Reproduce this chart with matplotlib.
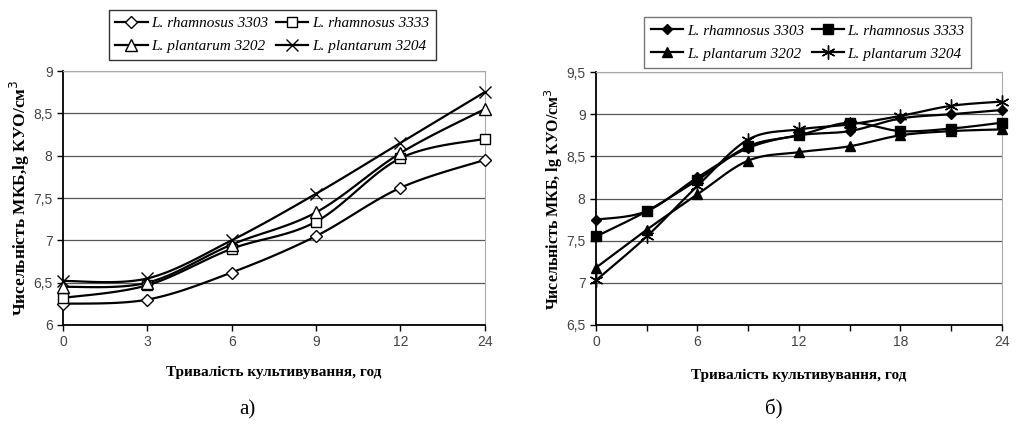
import matplotlib.pyplot as plt
import numpy as np

# data
hours_a = ["0", "3", "6", "9", "12", "24"]
rh3303_a = [6.25, 6.30, 6.62, 7.05, 7.62, 7.95]
rh3333_a = [6.32, 6.47, 6.90, 7.22, 7.97, 8.20]
pl3202_a = [6.45, 6.50, 6.95, 7.33, 8.03, 8.55]
pl3204_a = [6.52, 6.55, 7.00, 7.55, 8.15, 8.75]

hours_b = [0, 3, 6, 9, 12, 15, 18, 21, 24]
rh3303_b = [7.75, 7.85, 8.25, 8.60, 8.75, 8.80, 8.95, 9.00, 9.05]
rh3333_b = [7.55, 7.85, 8.22, 8.62, 8.75, 8.90, 8.80, 8.83, 8.90]
pl3202_b = [7.18, 7.63, 8.05, 8.45, 8.55, 8.62, 8.75, 8.80, 8.82]
pl3204_b = [7.03, 7.55, 8.15, 8.70, 8.82, 8.88, 8.98, 9.10, 9.15]

names = ["L. rhamnosus 3303", "L. rhamnosus 3333", "L. plantarum 3202", "L. plantarum 3204"]

serif = "Liberation Serif"
sans = "Liberation Sans"


def smooth(x, y, n=20):
    # Catmull-Rom curve through the points (end points doubled), like Excel's smoothed line
    x = np.asarray(x, float)
    y = np.asarray(y, float)
    px = np.concatenate([[x[0]], x, [x[-1]]])
    py = np.concatenate([[y[0]], y, [y[-1]]])
    xs, ys = [], []
    t = np.linspace(0, 1, n)
    for i in range(1, len(px) - 2):
        for p, out in ((px, xs), (py, ys)):
            p0, p1, p2, p3 = p[i - 1], p[i], p[i + 1], p[i + 2]
            out.extend(0.5 * (2 * p1 + (-p0 + p2) * t
                              + (2 * p0 - 5 * p1 + 4 * p2 - p3) * t ** 2
                              + (-p0 + 3 * p1 - 3 * p2 + p3) * t ** 3))
    return xs, ys


def draw(ax, x, y, marker, face, ms, label):
    sx, sy = smooth(x, y)
    ax.plot(sx, sy, color="black", lw=1.6, clip_on=False, zorder=3)
    ax.plot(x, y, ls="none", marker=marker, mfc=face, mec="black", ms=ms,
            mew=1.0, clip_on=False, zorder=4)
    # proxy for legend
    return ax.plot([], [], color="black", lw=1.6, marker=marker, mfc=face,
                   mec="black", ms=ms, mew=1.0, label=label)[0]


def style(ax):
    ax.grid(axis="y", color="#555555", lw=0.9)
    ax.set_axisbelow(True)
    for s in ["top", "right"]:
        ax.spines[s].set_color("#aaaaaa")
    for s in ["left", "bottom"]:
        ax.spines[s].set_linewidth(1.3)
    ax.tick_params(labelsize=10, colors="black", length=4, width=1)
    for lab in ax.get_xticklabels() + ax.get_yticklabels():
        lab.set_fontfamily(sans)
        lab.set_color("#444444")


fig = plt.figure(figsize=(10.16, 4.24), dpi=100)
leg_kw = dict(loc="center", ncol=2, frameon=True, fancybox=False,
              prop={"family": serif, "style": "italic", "size": 11},
              handlelength=2.1, handletextpad=0.25, columnspacing=0.5,
              labelspacing=0.6, borderpad=0.45)

# a)
ax1 = fig.add_axes([0.062, 0.2335, 0.415, 0.599])
xa = np.arange(len(hours_a))
h = []
h.append(draw(ax1, xa, rh3303_a, "D", "white", 6, names[0]))
h.append(draw(ax1, xa, rh3333_a, "s", "white", 7.5, names[1]))
h.append(draw(ax1, xa, pl3202_a, "^", "white", 8, names[2]))
h.append(draw(ax1, xa, pl3204_a, "x", "white", 9, names[3]))
ax1.set_xlim(0, len(hours_a) - 1)
ax1.set_ylim(6, 9)
ax1.set_xticks(xa)
ax1.set_xticklabels(hours_a)
ax1.set_yticks([6, 6.5, 7, 7.5, 8, 8.5, 9])
ax1.set_yticklabels(["6", "6,5", "7", "7,5", "8", "8,5", "9"])
style(ax1)
ax1.set_xlabel("Тривалість культивування, год", fontfamily=serif,
               fontweight="bold", fontsize=11, labelpad=12)
ax1.set_ylabel("Чисельність МКБ,lg КУО/см$^3$", fontfamily=serif,
               fontweight="bold", fontsize=12.5, labelpad=1)
# row-wise order in the legend
leg1 = fig.legend(handles=[h[0], h[2], h[1], h[3]],
                  bbox_to_anchor=(0.268, 0.9175), edgecolor="black", **leg_kw)
leg1.get_frame().set_linewidth(1.0)
fig.text(0.243, 0.022, "а)", ha="center", fontfamily=serif, fontsize=15)

# b)
ax2 = fig.add_axes([0.5866, 0.2335, 0.3996, 0.5965])
h = []
h.append(draw(ax2, hours_b, rh3303_b, "D", "black", 5.5, names[0]))
h.append(draw(ax2, hours_b, rh3333_b, "s", "black", 7, names[1]))
h.append(draw(ax2, hours_b, pl3202_b, "^", "black", 7, names[2]))
h.append(draw(ax2, hours_b, pl3204_b, (6, 2, 0), "black", 10, names[3]))
ax2.set_xlim(0, 24)
ax2.set_ylim(6.5, 9.5)
ax2.set_xticks([0, 6, 12, 18, 24])
ax2.set_xticks([3, 9, 15, 21], minor=True)
ax2.tick_params(axis="x", which="minor", length=4, width=1)
ax2.set_yticks([6.5, 7, 7.5, 8, 8.5, 9, 9.5])
ax2.set_yticklabels(["6,5", "7", "7,5", "8", "8,5", "9", "9,5"])
style(ax2)
ax2.set_xlabel("Тривалість культивування, год", fontfamily=serif,
               fontweight="bold", fontsize=11, labelpad=14)
ax2.set_ylabel("Чисельність МКБ, lg КУО/см$^3$", fontfamily=serif,
               fontweight="bold", fontsize=11.5, labelpad=1)
leg2 = fig.legend(handles=[h[0], h[2], h[1], h[3]],
                  bbox_to_anchor=(0.795, 0.9), edgecolor="#555555", **leg_kw)
leg2.get_frame().set_linewidth(1.0)
fig.text(0.762, 0.022, "б)", ha="center", fontfamily=serif, fontsize=15)

fig.savefig("out.png", dpi=100, facecolor="white")
